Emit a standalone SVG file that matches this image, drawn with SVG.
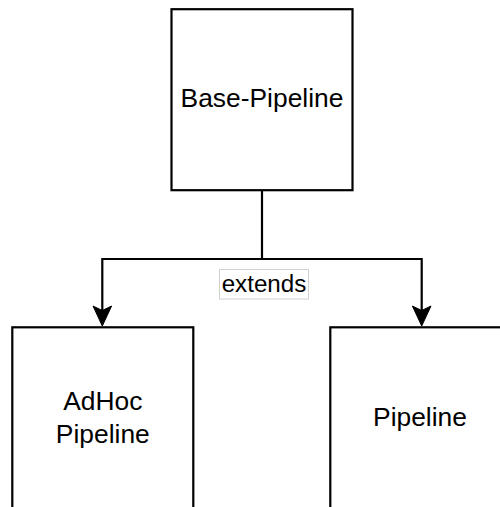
<svg xmlns="http://www.w3.org/2000/svg" width="500" height="507" viewBox="0 0 500 507">
  <style>
    .box { fill: #ffffff; stroke: #000000; stroke-width: 2.2; }
    .label { font-family: "Liberation Sans", Arial, sans-serif; font-size: 26.4px; fill: #000000; text-anchor: middle; }
    .edge { fill: none; stroke: #000000; stroke-width: 2.2; }
    .head { fill: #000000; stroke: #000000; stroke-width: 1; stroke-linejoin: miter; }
    .edge-label-bg { fill: #ffffff; stroke: #d0d0d0; stroke-width: 1; }
    .edge-label { font-family: "Liberation Sans", Arial, sans-serif; font-size: 24.2px; fill: #000000; text-anchor: middle; }
  </style>
  <rect width="500" height="507" fill="#ffffff"/>

  <g id="connectors">
    <path class="edge" d="M262,190 V259 M102.3,259 H421.7 M102.3,258 V312 M421.7,258 V312"/>
    <path class="head" d="M102.3,326 L93,306 L102.3,310.5 L111.6,306 Z"/>
    <path class="head" d="M421.7,326 L412.4,306 L421.7,310.5 L431,306 Z"/>
    <g id="extends-label">
      <rect class="edge-label-bg" x="219.5" y="269.5" width="89" height="29.5"/>
      <text class="edge-label" x="264" y="291.5">extends</text>
    </g>
  </g>

  <g id="base-pipeline">
    <rect class="box" x="171.5" y="9.2" width="181" height="181"/>
    <text class="label" x="262" y="107.3">Base-Pipeline</text>
  </g>

  <g id="adhoc-pipeline">
    <rect class="box" x="12.3" y="327.3" width="181" height="200"/>
    <text class="label" x="102.8" y="409.5">AdHoc</text>
    <text class="label" x="102.8" y="443">Pipeline</text>
  </g>

  <g id="pipeline">
    <rect class="box" x="330.3" y="327.3" width="181" height="200"/>
    <text class="label" x="420" y="425.5">Pipeline</text>
  </g>
</svg>
